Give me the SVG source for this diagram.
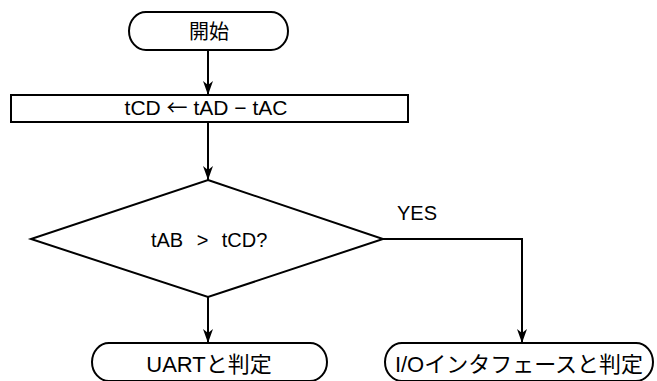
<svg xmlns="http://www.w3.org/2000/svg" width="657" height="381" viewBox="0 0 657 381">
<style>
.s{fill:#fff;stroke:#000;stroke-width:2}
.c{fill:none;stroke:#000;stroke-width:2}
text{font-family:"Liberation Sans","Noto Sans CJK JP",Arial,sans-serif;fill:#000;text-anchor:middle}
.j{font-family:"Noto Sans CJK JP",sans-serif}
</style>
<defs>
<marker id="ah" markerUnits="userSpaceOnUse" viewBox="0 0 14 10" refX="14" refY="5" markerWidth="14" markerHeight="10" orient="auto">
<path d="M0,0 L14,5 L0,10 L4,5 Z" fill="#000"/>
</marker>
</defs>
<rect width="657" height="381" fill="#fff"/>
<g id="connectors">
<path class="c" d="M208,50 V95" marker-end="url(#ah)"/>
<path class="c" d="M208,122 V180" marker-end="url(#ah)"/>
<path class="c" d="M208,297 V343" marker-end="url(#ah)"/>
<path class="c" d="M383,239 H522 V343" marker-end="url(#ah)"/>
<text x="417" y="220" font-size="20">YES</text>
</g>
<g id="start">
<rect class="s" x="129" y="12" width="159" height="38" rx="17" ry="19"/>
<text x="209" y="38.5" font-size="20">開始</text>
</g>
<g id="process">
<rect class="s" x="11" y="95" width="397" height="27"/>
<text x="206" y="114.5" font-size="21">tCD <tspan class="j">←</tspan> tAD − tAC</text>
</g>
<g id="decision">
<polygon class="s" points="208,180 383,239 208,297 31,239"/>
<text y="247" font-size="20"><tspan x="167">tAB</tspan><tspan x="202.5">&gt;</tspan><tspan x="244.5">tCD?</tspan></text>
</g>
<g id="uart">
<rect class="s" x="92" y="343" width="235" height="38" rx="17" ry="19"/>
<text x="209" y="372" font-size="22">UARTと判定</text>
</g>
<g id="io">
<rect class="s" x="385" y="343" width="268" height="38" rx="17" ry="19"/>
<text x="519" y="372" font-size="22">I/Oインタフェースと判定</text>
</g>
</svg>
